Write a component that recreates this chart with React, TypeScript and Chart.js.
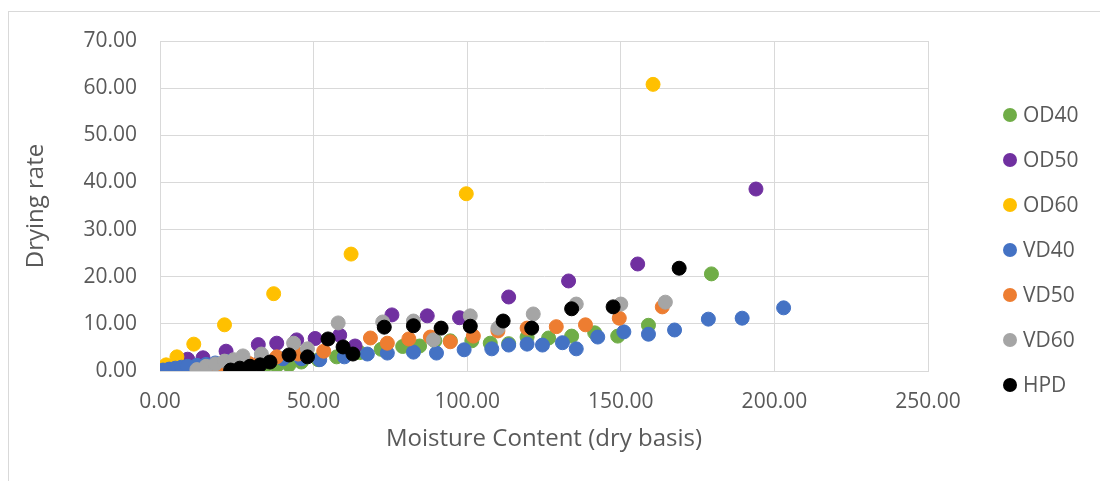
import { useEffect, useRef } from "react";
import { Chart, registerables } from "chart.js";

Chart.register(...registerables);

// Drying-rate curves: [moisture content (dry basis), drying rate]
const OD40: [number, number][] = [
  [18, 0.2], [22, 0.3], [26, 0.5], [30, 0.7], [34, 0.9], [38, 1.1], [42, 1.3],
  [46, 1.9], [51.5, 2.4], [57.5, 3.0], [65, 3.9], [72, 4.6], [79, 5.2], [84.5, 5.3],
  [89.5, 6.4], [94.5, 6.4], [101.5, 6.4], [107.5, 5.9], [113.5, 5.8], [119.5, 7.2],
  [126.5, 7.0], [134, 7.4], [141.5, 8.1], [149, 7.4], [159, 9.7], [179.5, 20.6],
];
const OD50: [number, number][] = [
  [5.5, 1.5], [9, 2.5], [14, 2.8], [21.5, 4.2], [32, 5.6], [38, 5.9], [44.5, 6.6],
  [50.5, 6.9], [58.5, 7.6], [63.5, 5.3], [75.5, 11.9], [87, 11.7], [97.5, 11.3],
  [113.5, 15.7], [133, 19.1], [155.5, 22.7], [194, 38.6],
];
const OD60: [number, number][] = [
  [0.5, 0.2], [2, 1.3], [5.5, 3.0], [11, 5.7], [21, 9.8], [37, 16.4], [62.2, 24.8],
  [99.7, 37.6], [160.5, 60.8],
];
const VD40: [number, number][] = [
  [1, 0.2], [3, 0.4], [5, 0.6], [7, 0.8], [9, 1.0], [12, 1.2], [15, 1.4], [18, 1.7],
  [22, 2.0], [27, 2.2], [33, 2.4], [40, 2.6], [46, 2.6], [52, 2.4], [60, 3.0],
  [67.5, 3.6], [74, 3.8], [82.5, 4.0], [90, 3.8], [99, 4.5], [108, 4.7], [113.5, 5.5],
  [119.5, 5.7], [124.5, 5.5], [131, 6.0], [135.5, 4.7], [142.5, 7.2], [151, 8.3],
  [159, 7.8], [167.5, 8.7], [178.5, 11.0], [189.5, 11.2], [203, 13.4],
];
const VD50: [number, number][] = [
  [15, 0.1], [18, 0.4], [21, 0.7], [25, 1.1], [29, 1.6], [33, 2.2], [38, 3.0],
  [45, 3.6], [53.3, 4.2], [68.5, 7.0], [74, 5.9], [81, 6.8], [88, 7.2], [94.5, 6.2],
  [102, 7.4], [110, 8.5], [119.5, 9.1], [129, 9.4], [138.5, 9.8], [149.5, 11.2],
  [163.5, 13.6],
];
const VD60: [number, number][] = [
  [12, 0.3], [15, 1.0], [18, 1.5], [21, 2.1], [24, 2.4], [27, 3.2], [33, 3.6],
  [43.5, 5.9], [48, 4.7], [58, 10.2], [72.5, 10.4], [82.5, 10.6], [89, 6.6],
  [101, 11.7], [110, 9.1], [121.5, 12.1], [135.5, 14.2], [150, 14.2], [164.5, 14.6],
];
const HPD: [number, number][] = [
  [23, 0.2], [26, 0.6], [29.3, 1.0], [32.6, 1.3], [35.8, 1.9], [42, 3.4], [48, 3.0],
  [54.7, 6.8], [59.6, 5.1], [62.8, 3.6], [73, 9.3], [82.5, 9.6], [91.5, 9.1],
  [101, 9.5], [111.7, 10.6], [121, 9.1], [134, 13.2], [147.5, 13.6], [169, 21.8],
];

const SERIES_NAMES = ["OD40", "OD50", "OD60", "VD40", "VD50", "VD60", "HPD"];
const SERIES_DATA = [OD40, OD50, OD60, VD40, VD50, VD60, HPD];
const SERIES_COLORS = ["#70AD47", "#7030A0", "#FFC000", "#4472C4", "#ED7D31", "#A5A5A5", "#000000"];

const X_RANGE = [0, 250];
const X_STEP = 50;
const Y_RANGE = [0, 70];
const Y_STEP = 10;

const X_TITLE = "Moisture Content (dry basis)";
const Y_TITLE = "Drying rate";

const FONT = "'Open Sans', 'Noto Sans', sans-serif";
const TEXT = "#595959";
const GRID = "#D9D9D9";

// Legend column on the right, drawn straight onto the canvas
const sideLegend = {
  id: "sideLegend",
  afterDraw(chart: any) {
    const ctx: CanvasRenderingContext2D = chart.ctx;
    ctx.save();
    ctx.font = `21px ${FONT}`;
    ctx.textBaseline = "middle";
    ctx.textAlign = "left";
    chart.data.datasets.forEach((ds: any, i: number) => {
      const cx = 1010;
      const cy = 115 + i * 45;
      ctx.beginPath();
      ctx.arc(cx, cy, 7, 0, Math.PI * 2);
      ctx.fillStyle = ds.backgroundColor;
      ctx.fill();
      ctx.fillStyle = TEXT;
      ctx.fillText(ds.label, cx + 13, cy + 1);
    });
    ctx.restore();
  },
};

export default function App() {
  const canvasRef = useRef<HTMLCanvasElement | null>(null);

  useEffect(() => {
    document.body.style.margin = "0";
    document.body.style.overflow = "hidden";
    const canvas = canvasRef.current;
    if (!canvas) return;

    const chart = new Chart(canvas, {
      type: "scatter",
      data: {
        datasets: SERIES_DATA.map((pts, i) => ({
          label: SERIES_NAMES[i],
          data: pts.map(([x, y]) => ({ x, y })),
          backgroundColor: SERIES_COLORS[i],
          borderColor: SERIES_COLORS[i],
          pointRadius: 7,
          pointBorderWidth: 1,
          pointHoverRadius: 7,
          order: SERIES_NAMES.length - 1 - i,
        })),
      },
      options: {
        responsive: false,
        animation: false,
        layout: { padding: { left: 0, top: 41, right: 172, bottom: 27 } },
        plugins: {
          legend: { display: false },
          tooltip: { enabled: false },
        },
        scales: {
          x: {
            type: "linear",
            position: "bottom",
            min: X_RANGE[0],
            max: X_RANGE[1],
            afterFit: (s: any) => {
              s.height = 83;
            },
            ticks: {
              stepSize: X_STEP,
              padding: 18,
              color: TEXT,
              font: { family: FONT, size: 21 },
              callback: (v: any) => Number(v).toFixed(2),
            },
            grid: { color: GRID, lineWidth: 1, drawTicks: false },
            border: { display: true, color: GRID, width: 1 },
            title: {
              display: true,
              text: X_TITLE,
              color: TEXT,
              font: { family: FONT, size: 24 },
              padding: { top: 0, bottom: 0 },
            },
          },
          y: {
            type: "linear",
            min: Y_RANGE[0],
            max: Y_RANGE[1],
            afterFit: (s: any) => {
              s.width = 160;
            },
            ticks: {
              stepSize: Y_STEP,
              padding: 23,
              color: TEXT,
              font: { family: FONT, size: 21 },
              callback: (v: any) => Number(v).toFixed(2),
            },
            grid: { color: GRID, lineWidth: 1, drawTicks: false },
            border: { display: true, color: GRID, width: 1 },
            title: {
              display: true,
              text: Y_TITLE,
              color: TEXT,
              font: { family: FONT, size: 24 },
              padding: { top: 22, bottom: 0 },
            },
          },
        },
      },
      plugins: [sideLegend],
    });

    return () => chart.destroy();
  }, []);

  return (
    <div style={{ position: "relative", width: 1100, height: 481, overflow: "hidden", background: "#fff" }}>
      <div
        style={{
          position: "absolute",
          left: 8,
          top: 11,
          width: 1200,
          height: 600,
          borderLeft: `1px solid ${GRID}`,
          borderTop: `1px solid ${GRID}`,
        }}
      />
      <canvas ref={canvasRef} width={1100} height={481} style={{ position: "absolute", left: 0, top: 0 }} />
    </div>
  );
}
